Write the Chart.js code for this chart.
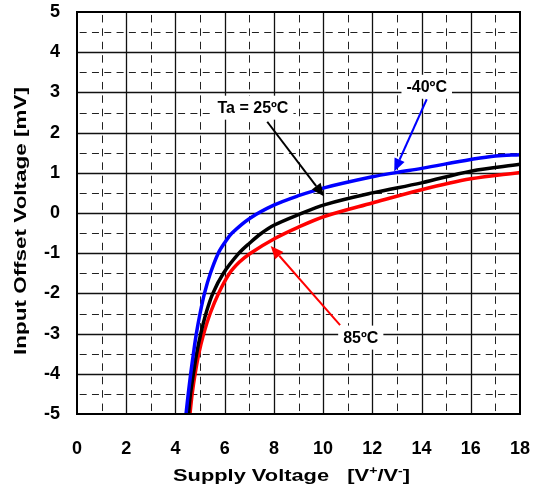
<!DOCTYPE html>
<html>
<head>
<meta charset="utf-8">
<script src="https://cdn.jsdelivr.net/npm/chart.js@4.4.0/dist/chart.umd.min.js"></script>
<style>
  html, body { margin: 0; padding: 0; background: #fff; }
  #wrap { width: 533px; height: 491px; position: relative; }
</style>
</head>
<body>
<div id="wrap"><canvas id="chart"></canvas></div>
<script>
// --- DATA ---
const xTickValues = [0, 2, 4, 6, 8, 10, 12, 14, 16, 18];
const yTickValues = [-5, -4, -3, -2, -1, 0, 1, 2, 3, 4, 5];

const coldLabel = '-40ºC';
const coldX = [4.43, 4.52, 4.62, 4.73, 4.85, 5.0, 5.18, 5.42, 5.74, 6.0, 6.3, 7.03, 8.02, 9, 10, 12, 13, 14, 16, 17, 18];
const coldY = [-5, -4.5, -4, -3.5, -3, -2.5, -2, -1.5, -1, -0.74, -0.5, -0.13, 0.2, 0.43, 0.62, 0.9, 1.01, 1.11, 1.33, 1.42, 1.45];

const roomLabel = 'Ta = 25ºC';
const roomX = [4.53, 4.61, 4.73, 4.86, 5.03, 5.24, 5.52, 5.95, 6.58, 7.03, 7.48, 8.02, 9, 10.08, 12, 14, 16, 18];
const roomY = [-5, -4.5, -4, -3.5, -3, -2.5, -2, -1.5, -1, -0.74, -0.51, -0.3, -0.04, 0.21, 0.5, 0.75, 1.04, 1.21];

const hotLabel = '85ºC';
const hotX = [4.59, 4.68, 4.8, 4.95, 5.15, 5.41, 5.75, 6.2, 6.6, 7.05, 8.02, 9, 10.08, 12, 14, 16, 18];
const hotY = [-5, -4.5, -4, -3.5, -3, -2.5, -2, -1.5, -1.22, -1.0, -0.64, -0.35, -0.08, 0.25, 0.58, 0.85, 1.01];

const xTitle = 'Supply Voltage';
const yTitle = 'Input Offset Voltage [mV]';

// --- HELPERS ---
const toPoints = (xs, ys) => xs.map((x, i) => ({x, y: ys[i]}));

function series(label, xs, ys, color){
  return {
    label, data: toPoints(xs, ys), showLine: true, borderColor: color, backgroundColor: color,
    borderWidth: 3.5, pointRadius: 0, tension: 0.35, fill: false
  };
}

// callouts, placed in data units
const callouts = [
  {text: coldLabel, color: '#0000ff', at: [14.21, 3.14], from: [14.21, 2.83], to: [12.89, 1.03]},
  {text: roomLabel, color: '#000000', at: [7.15, 2.62], from: [7.73, 2.27], to: [10.04, 0.41]},
  {text: hotLabel, color: '#ff0000', at: [11.53, -3.1], from: [10.69, -2.79], to: [7.87, -0.82]}
];

const FONT = '"Liberation Sans", Arial, sans-serif';

// --- PLUGIN: grid, frame, callouts, axis titles ---
const decor = {
  id: 'decor',
  beforeDatasetsDraw(chart){
    const {ctx, chartArea: a, scales: {x, y}} = chart;
    ctx.save();
    const stepX = x.getPixelForValue(1) - x.getPixelForValue(0);
    const stepY = y.getPixelForValue(0) - y.getPixelForValue(0.5);
    const perY = stepY * 2 / 3;
    // vertical lines
    for(let v = 1; v < 18; v++){
      const px = Math.round(x.getPixelForValue(v)) + 0.5;
      ctx.beginPath();
      if(v % 2 === 0){
        ctx.setLineDash([]); ctx.strokeStyle = '#111'; ctx.lineWidth = 1.3;
      } else {
        ctx.setLineDash([7.5, perY - 7.5]); ctx.lineDashOffset = -(stepY - perY - 3.75); ctx.strokeStyle = '#222'; ctx.lineWidth = 1;
      }
      ctx.moveTo(px, a.bottom); ctx.lineTo(px, a.top); ctx.stroke();
    }
    // horizontal lines
    for(let v = -4.5; v < 5; v += 0.5){
      const py = Math.round(y.getPixelForValue(v)) + 0.5;
      ctx.beginPath();
      if(Number.isInteger(v)){
        ctx.setLineDash([]); ctx.strokeStyle = '#111'; ctx.lineWidth = 1.3;
      } else {
        ctx.setLineDash([7, stepX / 2 - 7]); ctx.lineDashOffset = -(stepX / 4 - 3.5); ctx.strokeStyle = '#222'; ctx.lineWidth = 1;
      }
      ctx.moveTo(a.left, py); ctx.lineTo(a.right, py); ctx.stroke();
    }
    ctx.restore();
  },
  afterDatasetsDraw(chart){
    const {ctx, chartArea: a, scales: {x, y}} = chart;
    ctx.save();
    // plot frame
    ctx.setLineDash([]);
    ctx.strokeStyle = '#000'; ctx.lineWidth = 2;
    ctx.strokeRect(a.left, a.top, a.right - a.left, a.bottom - a.top);

    // callouts
    ctx.font = 'bold 16px ' + FONT;
    ctx.textAlign = 'center'; ctx.textBaseline = 'middle';
    callouts.forEach(c => {
      const cx = x.getPixelForValue(c.at[0]), cy = y.getPixelForValue(c.at[1]);
      const w = ctx.measureText(c.text).width + 10;
      ctx.fillStyle = '#fff';
      ctx.fillRect(cx - w / 2, cy - 12, w, 24);
      ctx.fillStyle = '#000';
      ctx.fillText(c.text, cx, cy + 1);

      const x0 = x.getPixelForValue(c.from[0]), y0 = y.getPixelForValue(c.from[1]);
      const x1 = x.getPixelForValue(c.to[0]), y1 = y.getPixelForValue(c.to[1]);
      const ang = Math.atan2(y1 - y0, x1 - x0);
      const len = 13, half = 5.5;
      const bx = x1 - len * Math.cos(ang), by = y1 - len * Math.sin(ang);
      ctx.strokeStyle = c.color; ctx.fillStyle = c.color; ctx.lineWidth = 2;
      ctx.beginPath(); ctx.moveTo(x0, y0); ctx.lineTo(bx, by); ctx.stroke();
      ctx.beginPath();
      ctx.moveTo(x1, y1);
      ctx.lineTo(bx + half * Math.sin(ang), by - half * Math.cos(ang));
      ctx.lineTo(bx - half * Math.sin(ang), by + half * Math.cos(ang));
      ctx.closePath(); ctx.fill();
    });

    // x axis title with superscripts, stretched like the original
    const big = 'bold 17px ' + FONT, small = 'bold 11px ' + FONT;
    const parts = [[xTitle + '   [V', big, 0], ['+', small, -7], ['/V', big, 0], ['-', small, -7], [']', big, 0]];
    let total = 0;
    parts.forEach(p => { ctx.font = p[1]; p.push(ctx.measureText(p[0]).width); total += p[3]; });
    ctx.save();
    ctx.translate(291.5, 481);
    ctx.scale(237 / total, 1);
    ctx.textAlign = 'left'; ctx.textBaseline = 'alphabetic'; ctx.fillStyle = '#000';
    let cur = -total / 2;
    parts.forEach(p => { ctx.font = p[1]; ctx.fillText(p[0], cur, p[2]); cur += p[3]; });
    ctx.restore();

    // y axis title
    ctx.save();
    ctx.font = big;
    const yw = ctx.measureText(yTitle).width;
    ctx.translate(20, 221);
    ctx.rotate(-Math.PI / 2);
    ctx.scale(268 / yw, 1);
    ctx.textAlign = 'center'; ctx.textBaseline = 'middle'; ctx.fillStyle = '#000';
    ctx.fillText(yTitle, 0, 1);
    ctx.restore();

    ctx.restore();
  }
};

// --- CHART ---
const tickFont = {family: FONT, size: 18, weight: 'bold'};

new Chart(document.getElementById('chart'), {
  type: 'scatter',
  data: {
    datasets: [
      series(coldLabel, coldX, coldY, '#0000ff'),
      series(roomLabel, roomX, roomY, '#000000'),
      series(hotLabel, hotX, hotY, '#ff0000')
    ]
  },
  options: {
    responsive: true,
    maintainAspectRatio: false,
    animation: false,
    layout: {padding: {top: 12, right: 13, left: 0, bottom: 0}},
    plugins: {legend: {display: false}, tooltip: {enabled: false}},
    scales: {
      x: {
        type: 'linear', min: 0, max: 18,
        afterBuildTicks: s => { s.ticks = xTickValues.map(v => ({value: v})); },
        afterFit: s => { s.height = 77; s.paddingLeft = 0; s.paddingRight = 0; },
        ticks: {font: tickFont, color: '#000', padding: 24, maxRotation: 0, autoSkip: false},
        grid: {display: false, drawTicks: false},
        border: {display: false}
      },
      y: {
        type: 'linear', min: -5, max: 5,
        afterBuildTicks: s => { s.ticks = yTickValues.map(v => ({value: v})); },
        afterFit: s => { s.width = 77; s.paddingTop = 0; s.paddingBottom = 0; },
        ticks: {font: tickFont, color: '#000', padding: 17, autoSkip: false},
        grid: {display: false, drawTicks: false},
        border: {display: false}
      }
    }
  },
  plugins: [decor]
});
</script>
</body>
</html>
